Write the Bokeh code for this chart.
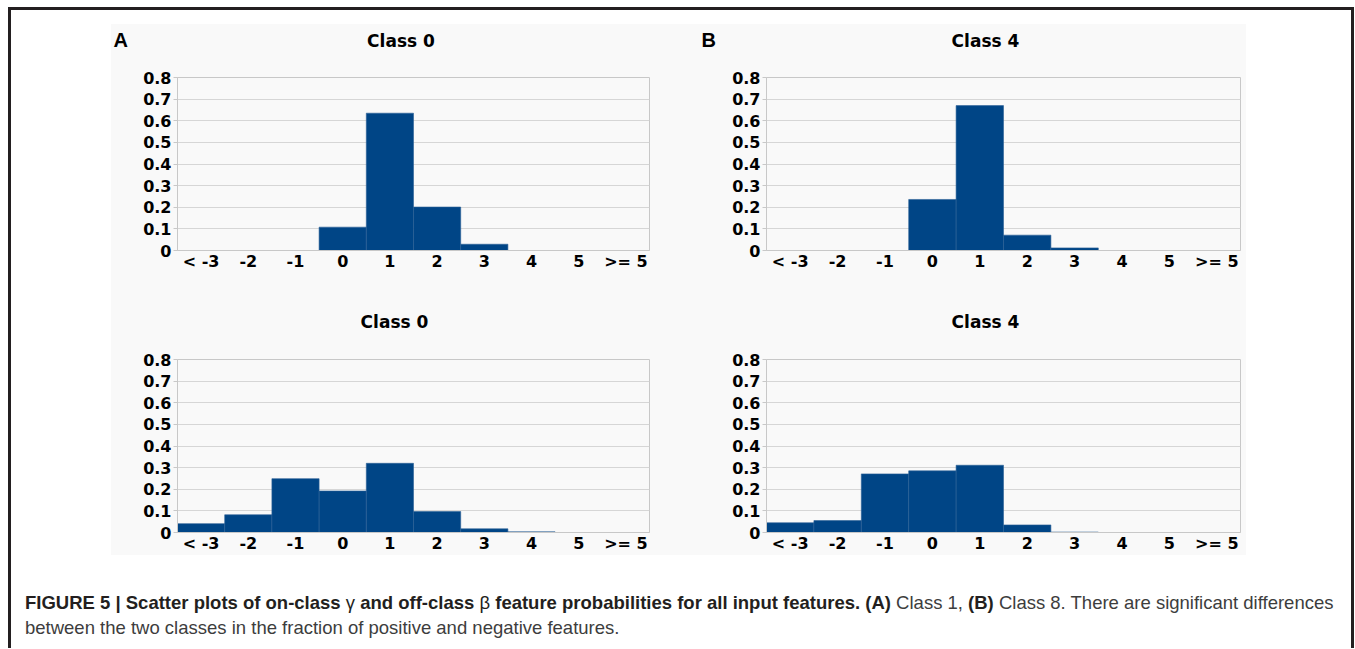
from bokeh.plotting import figure
from bokeh.layouts import row, column
from bokeh.models import Div, Spacer, FixedTicker, ColumnDataSource, Range1d
from bokeh.core.properties import value
from bokeh.embed import file_html
from bokeh.resources import INLINE

# ---------------- data ----------------
categories = ["< -3", "-2", "-1", "0", "1", "2", "3", "4", "5", ">= 5"]
on_class0 = [0, 0, 0, 0.108, 0.635, 0.201, 0.029, 0, 0, 0]
on_class4 = [0, 0, 0, 0.236, 0.670, 0.071, 0.012, 0, 0, 0]
off_class0 = [0.041, 0.082, 0.249, 0.192, 0.320, 0.097, 0.017, 0.003, 0, 0]
off_class4 = [0.045, 0.055, 0.271, 0.285, 0.311, 0.035, 0.002, 0, 0, 0]
top_titles = ["Class 0", "Class 4"]
bottom_titles = ["Class 0", "Class 4"]
panel_letters = ["A", "B"]
y_ticks = [0, 0.1, 0.2, 0.3, 0.4, 0.5, 0.6, 0.7, 0.8]
y_tick_labels = ["0", "0.1", "0.2", "0.3", "0.4", "0.5", "0.6", "0.7", "0.8"]
caption_bold = ("FIGURE 5 | Scatter plots of on-class <span style=\"font-weight:normal\">&gamma;</span> "
                "and off-class <span style=\"font-weight:normal\">&beta;</span> feature probabilities "
                "for all input features.")
caption_rest = ("<b style=\"color:#231f20\">(A)</b> Class 1, <b style=\"color:#231f20\">(B)</b> Class 8. "
                "There are significant differences<br>"
                "between the two classes in the fraction of positive and negative features.")

# ---------------- style / layout ----------------
BG = "#f9f9f9"
BAR = "#004586"
GRID = "#d6d6d6"
FRAME = "#231f20"
TICK_FONT = "DejaVu Sans"

GREY_X0 = 111            # page x where the grey block starts
LEFT_W, RIGHT_W = 580, 555
GREY_W = LEFT_W + RIGHT_W
HEAD1 = (24, 60)         # page y span of first header band
TOP_ROW_H = 240
HEAD2 = (300, 340)
BOT_ROW_H = 215


def panel(values, w, h, ml, mr, mt, mb):
    p = figure(x_range=categories, y_range=(0, 0.8), width=w, height=h,
               min_border_left=ml, min_border_right=mr, min_border_top=mt, min_border_bottom=mb,
               output_backend="svg", toolbar_location=None,
               background_fill_color=BG, border_fill_color=BG,
               outline_line_color="#c8c8c8")
    xs = [c for c, v in zip(categories, values) if v > 0]
    vs = [v for v in values if v > 0]
    src = ColumnDataSource(dict(x=xs, top=vs))
    p.vbar(x="x", top="top", width=1.0, bottom=0, source=src,
           fill_color=BAR, line_color="#2a5f96", line_width=0.6)

    p.xgrid.grid_line_color = None
    p.ygrid.grid_line_color = GRID
    p.ygrid.ticker = FixedTicker(ticks=y_ticks)

    ya = p.yaxis[0]
    ya.ticker = FixedTicker(ticks=y_ticks)
    ya.major_label_overrides = {t: l for t, l in zip(y_ticks, y_tick_labels)}
    ya.minor_tick_line_color = None
    ya.major_tick_out = 4
    ya.major_tick_in = 0
    ya.major_tick_line_color = "#c8c8c8"
    ya.axis_line_color = "#c8c8c8"
    ya.major_label_standoff = 2
    ya.major_label_text_font = TICK_FONT
    ya.major_label_text_font_style = "bold"
    ya.major_label_text_font_size = "16px"
    ya.major_label_text_color = "#000000"

    xa = p.xaxis[0]
    xa.major_tick_line_color = None
    xa.major_tick_out = 0
    xa.axis_line_color = "#c8c8c8"
    xa.major_label_standoff = 1
    xa.major_label_text_font = TICK_FONT
    xa.major_label_text_font_style = "bold"
    xa.major_label_text_font_size = "16px"
    xa.major_label_text_color = "#000000"
    return p


def header(span, titles, title_cx, mid_y, letters=None, letter_x=None, letter_y=None):
    # a band figure whose ranges are page pixels (y increasing downward)
    h = span[1] - span[0]
    p = figure(width=GREY_W, height=h, x_range=Range1d(GREY_X0, GREY_X0 + GREY_W),
               y_range=Range1d(span[1], span[0]),
               output_backend="svg", toolbar_location=None,
               background_fill_color=BG, border_fill_color=BG, outline_line_color=None,
               min_border=0, min_border_left=0, min_border_right=0,
               min_border_top=0, min_border_bottom=0)
    p.axis.visible = False
    p.grid.visible = False
    p.text(x=title_cx, y=[mid_y] * len(titles), text=titles, text_align="center",
           text_baseline="middle", text_font=value(TICK_FONT), text_font_style="bold",
           text_font_size="17px", text_color="#000000")
    if letters:
        p.text(x=letter_x, y=[letter_y] * len(letters), text=letters, text_align="left",
               text_baseline="middle", text_font=value("Liberation Sans"), text_font_style="bold",
               text_font_size="20px", text_color="#000000")
    return p


h1 = header(HEAD1, top_titles, [400.5, 985], 40.5, panel_letters, [113, 701], 39)
tl = panel(on_class0, LEFT_W, TOP_ROW_H, 66, 42, 17, 50)
tr = panel(on_class4, RIGHT_W, TOP_ROW_H, 75, 6, 17, 50)
h2 = header(HEAD2, bottom_titles, [394, 985], 321.5)
bl = panel(off_class0, LEFT_W, BOT_ROW_H, 66, 42, 19, 23)
br = panel(off_class4, RIGHT_W, BOT_ROW_H, 75, 6, 19, 23)

grey_block = column(h1, row(tl, tr, spacing=0), h2, row(bl, br, spacing=0), spacing=0,
                    styles={"background-color": BG})

caption_html = ('<div style="font-family:\'Liberation Sans\',Arial,sans-serif;font-size:18.5px;'
                'line-height:25px;color:#3d3d3d;padding:35px 0 0 14px;white-space:nowrap;">'
                '<b style="color:#231f20">' + caption_bold + '</b> ' + caption_rest + '</div>')
caption = Div(text=caption_html, width=1340, height=93, margin=0)

top_bar = Div(text="", width=1346, height=3, margin=0, styles={"background-color": FRAME})
left_bar = Div(text="", width=3, height=638, margin=0, styles={"background-color": FRAME})
right_bar = Div(text="", width=3, height=638, margin=0, styles={"background-color": FRAME})

middle = column(Spacer(width=1340, height=14),
                row(Spacer(width=100, height=531), grey_block, Spacer(width=105, height=531), spacing=0),
                caption, spacing=0)
framed = column(Spacer(width=1346, height=7), top_bar,
                row(left_bar, middle, right_bar, spacing=0), spacing=0)
page = row(Spacer(width=8, height=648), framed, spacing=0)

open("out.html", "w").write(file_html(page, INLINE))
